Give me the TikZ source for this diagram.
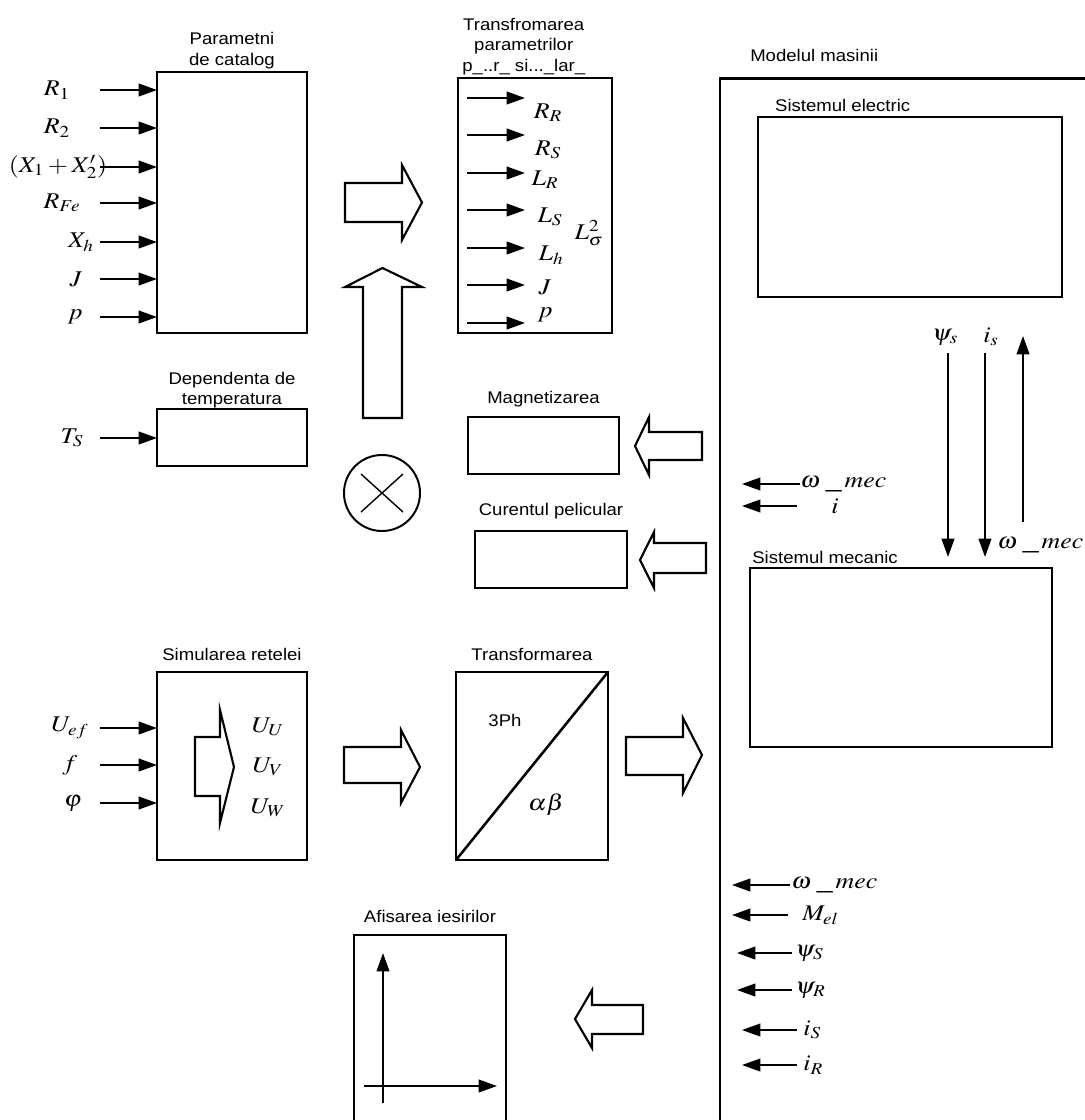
\documentclass[tikz,border=0pt]{standalone}
\usepackage{mathptmx}
\usepackage[no-math]{fontspec}
\setmainfont{Liberation Sans}[FakeStretch=1.1]
\usetikzlibrary{arrows.meta,positioning}
\tikzset{
  box/.style={draw, line width=1.8pt, inner sep=0pt, outer sep=0pt},
  title/.style={font=\fontsize{12}{14.5}\selectfont, inner sep=0pt, align=center},
  mlbl/.style={font=\fontsize{16}{18}\selectfont, inner sep=0pt, xscale=1.15},
  sig/.style={-{Triangle[length=13pt,width=9pt]}, line width=1.3pt},
  blk/.style={draw, line width=1.5pt, line join=miter}
}
\begin{document}
\begin{tikzpicture}[x=0.025cm, y=-0.025cm]
  \useasboundingbox (0,0) rectangle (1085,1120);
  % catalogue data
  \node[box, minimum width=3.75cm, minimum height=6.525cm] (cat) at (232,202.5) {};
  \node[title, above=2pt of cat] (catT) {Parametni\\de catalog};
  \foreach \lab/\x/\y [count=\i] in {R_1/57/90, R_2/57/128, {\left(X_1+X'_2\right)}/58/167,
      R_{Fe}/62/203, X_h/81/242, J/76/279, p/75/317} {
    \node[mlbl] (cin\i) at (\x,\y) {$\lab$};
    \coordinate (cs\i) at (100,\y);
    \draw[sig] (cs\i) -- (cs\i -| cat.west);
  }
  % converted parameters
  \node[box, minimum width=3.85cm, minimum height=6.375cm] (tpar) at (535,205.5) {};
  \node[title, above=2pt of tpar, xshift=-8pt] (tparT) {Transfromarea\\parametrilor\\p\_..r\_ si...\_lar\_};
  \foreach \y [count=\i] in {98,135,173,210,248,285,323} {
    \coordinate (ts\i) at (467,\y);
    \draw[sig] (ts\i) -- ++(58,0);
  }
  \foreach \lab/\x/\y [count=\i] in {R_R/548/113, R_S/548/150, L_R/545/180, L_S/550/217,
      L_h/551/255, J/545/287, p/545/315}
    \node[mlbl] (tout\i) at (\x,\y) {$\lab$};
  \node[mlbl] (Lsig) at (589,233) {$L_\sigma^2$};
  \draw[blk] (345,183) -- (402,183) -- (402,165) -- (422,202.5) -- (402,240) -- (402,222) -- (345,222) -- cycle;
  \draw[blk] (363,418) -- (363,287) -- (345,287) -- (382.5,268) -- (422,287) -- (402,287) -- (402,418) -- cycle;
  % temperature
  \node[box, minimum width=3.75cm, minimum height=1.425cm] (temp) at (232,437.5) {};
  \node[title, above=0.5pt of temp] (tempT) {Dependenta de\\temperatura};
  \node[mlbl] (Ts) at (72,438) {$T_S$};
  \coordinate (tsin) at (100,438);
  \draw[sig] (tsin) -- (tsin -| temp.west);
  \node[draw, circle, line width=1.4pt, minimum size=1.9cm, inner sep=0pt] (mult) at (382,493) {};
  \draw[line width=1pt] ([shift={(-21,-19)}]mult.center) -- ([shift={(21,19)}]mult.center)
                        ([shift={(-21,19)}]mult.center) -- ([shift={(21,-19)}]mult.center);
  % magnetisation and skin effect
  \node[box, minimum width=3.775cm, minimum height=1.425cm] (magn) at (543.5,445.5) {};
  \node[title, above=7pt of magn] (magnT) {Magnetizarea};
  \node[box, minimum width=3.8cm, minimum height=1.425cm] (skin) at (551,559.5) {};
  \node[title, above=8pt of skin] (skinT) {Curentul pelicular};
  \draw[blk] (702,432) -- (649,432) -- (649,417) -- (635,446) -- (649,475) -- (649,460) -- (702,460) -- cycle;
  \draw[blk] (706,543) -- (654,543) -- (654,532) -- (640,560) -- (654,588) -- (654,573) -- (706,573) -- cycle;
  % grid simulation
  \node[box, minimum width=3.75cm, minimum height=4.7cm] (net) at (232,766) {};
  \node[title, above=8pt of net] (netT) {Simularea retelei};
  \foreach \lab/\x/\y [count=\i] in {U_{ef}/70/728, f/70/765, \varphi/73/803} {
    \node[mlbl] (nin\i) at (\x,\y) {$\lab$};
    \coordinate (ns\i) at (100,\y);
    \draw[sig] (ns\i) -- (ns\i -| net.west);
  }
  \foreach \lab/\y [count=\i] in {U_U/727, U_V/767, U_W/808}
    \node[mlbl] (nout\i) at (268,\y) {$\lab$};
  \draw[blk] (195,737) -- (220,737) -- (220,710) -- (234,767) -- (220,823) -- (220,796) -- (195,796) -- cycle;
  \draw[blk] (344,747) -- (401,747) -- (401,730) -- (420,767) -- (401,803) -- (401,783) -- (344,783) -- cycle;
  % 3ph -> alpha beta
  \node[box, minimum width=3.8cm, minimum height=4.7cm] (tr3) at (532,766) {};
  \node[title, above=8pt of tr3] (tr3T) {Transformarea};
  \draw[line width=1.8pt] (tr3.south west) -- (tr3.north east);
  \node[title] (ph3) at (505,720) {3Ph};
  \node[mlbl] (ab) at (546,805) {$\alpha\beta$};
  \draw[blk] (626,737) -- (683,737) -- (683,718) -- (702,755) -- (683,793) -- (683,775) -- (626,775) -- cycle;
  % outputs
  \node[box, minimum width=3.8cm, minimum height=5cm] (out) at (430,1035) {};
  \node[title, above=8.5pt of out] (outT) {Afisarea iesirilor};
  \coordinate (ax0) at (383,1103);
  \coordinate (ax1) at (364,1086);
  \draw[sig] (ax0) -- (ax0 |- 0,953);
  \draw[sig] (ax1) -- (ax1 -| 497,0);
  \draw[blk] (643,1005) -- (592,1005) -- (592,990) -- (575,1019) -- (592,1048) -- (592,1034) -- (643,1034) -- cycle;
  % machine model
  \node[box, line width=2pt, minimum width=12cm, minimum height=28.5cm] (model) at (960,649) {};
  \node[title, anchor=west] (modT) at (750,55) {Modelul masinii};
  \node[box, minimum width=7.6cm, minimum height=4.5cm] (elec) at (910,207) {};
  \node[title, above right=3.5pt and 12pt of elec.north west] (elecT) {Sistemul electric};
  \node[box, minimum width=7.55cm, minimum height=4.475cm] (mec) at (901,657.5) {};
  \node[title, above right=3pt and 1.5pt of mec.north west] (mecT) {Sistemul mecanic};
  \node[mlbl] (psis) at (945,337) {$\psi_s$};
  \node[mlbl] (isl) at (991,337) {$i_s$};
  \coordinate (d1) at (948,353);
  \coordinate (d2) at (985,353);
  \coordinate (u1) at (1023,522);
  \draw[sig] (d1) -- (d1 |- 0,557);
  \draw[sig] (d2) -- (d2 |- 0,557);
  \draw[sig] (u1) -- (u1 |- 0,336);
  \node[mlbl, anchor=west] (wmr) at (997,545) {$\omega\;\_\,mec$};
  \node[mlbl, anchor=west] (wm1) at (800,484) {$\omega\;\_\,mec$};
  \node[mlbl] (ii) at (835,506) {$i$};
  \coordinate (ic) at (797,506);
  \draw[sig] (wm1.west) -- (742,484);
  \draw[sig] (ic) -- (ic -| 742,0);
  \foreach \lab/\x/\y [count=\i] in {\omega\;\_\,mec/791/885, M_{el}/802/915, \psi_S/795/953,
      \psi_R/795/990, i_S/803/1030, i_R/803/1065}
    \node[mlbl, anchor=west] (mo\i) at (\x,\y) {$\lab$};
  \foreach \xa/\xb/\y in {790/732/885, 788/732/915, 792/737/953, 792/737/990, 797/742/1030, 797/742/1065} {
    \coordinate (ma) at (\xa,\y);
    \draw[sig] (ma) -- (ma -| \xb,0);
  }
\end{tikzpicture}
\end{document}
